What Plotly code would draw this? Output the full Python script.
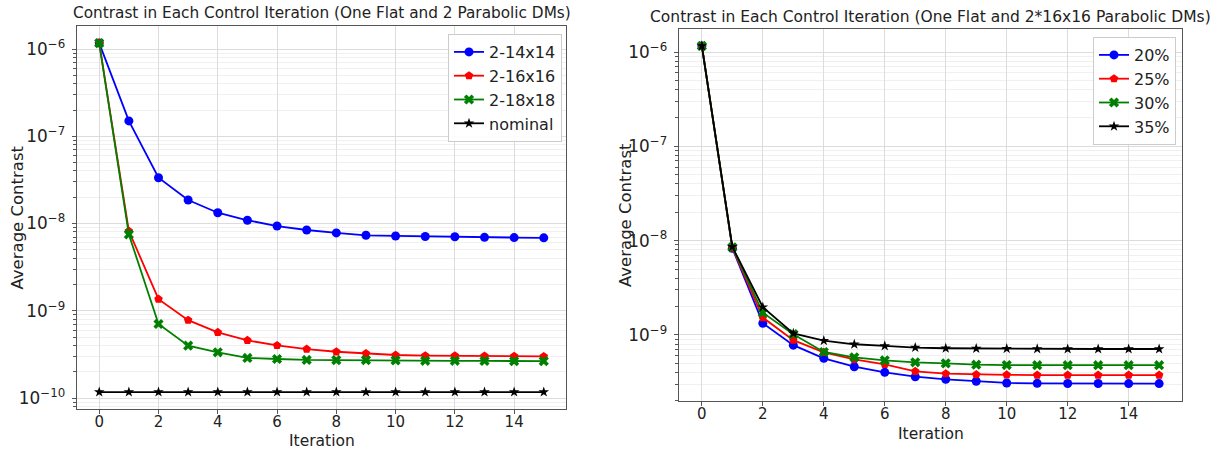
import plotly.graph_objects as go

iterations = list(range(16))

# Left panel: One Flat and 2 Parabolic DMs
left_14 = [1.17e-6, 1.5e-7, 3.35e-8, 1.86e-8, 1.33e-8, 1.09e-8, 9.36e-9, 8.43e-9,
           7.8e-9, 7.33e-9, 7.2e-9, 7.1e-9, 7.05e-9, 6.95e-9, 6.9e-9, 6.85e-9]
left_16 = [1.17e-6, 8.2e-9, 1.36e-9, 7.8e-10, 5.66e-10, 4.58e-10, 4.0e-10, 3.64e-10,
           3.39e-10, 3.24e-10, 3.11e-10, 3.06e-10, 3.05e-10, 3.03e-10, 3.02e-10, 3.0e-10]
left_18 = [1.17e-6, 7.5e-9, 7.05e-10, 3.98e-10, 3.34e-10, 2.88e-10, 2.8e-10, 2.73e-10,
           2.72e-10, 2.72e-10, 2.7e-10, 2.67e-10, 2.67e-10, 2.66e-10, 2.65e-10, 2.65e-10]
left_nominal = [1.17e-10] * 16

# Right panel: One Flat and 2*16x16 Parabolic DMs
right_20 = [1.16e-6, 8.3e-9, 1.33e-9, 7.8e-10, 5.66e-10, 4.61e-10, 4.02e-10, 3.61e-10,
            3.39e-10, 3.23e-10, 3.1e-10, 3.07e-10, 3.06e-10, 3.06e-10, 3.05e-10, 3.05e-10]
right_25 = [1.16e-6, 8.4e-9, 1.53e-9, 8.8e-10, 6.55e-10, 5.52e-10, 4.89e-10, 4.12e-10,
            3.89e-10, 3.8e-10, 3.78e-10, 3.76e-10, 3.76e-10, 3.76e-10, 3.76e-10, 3.76e-10]
right_30 = [1.16e-6, 8.5e-9, 1.72e-9, 1.02e-9, 6.6e-10, 5.8e-10, 5.38e-10, 5.13e-10,
            5.0e-10, 4.84e-10, 4.8e-10, 4.78e-10, 4.78e-10, 4.78e-10, 4.78e-10, 4.78e-10]
right_35 = [1.16e-6, 8.6e-9, 1.97e-9, 1.04e-9, 8.7e-10, 7.97e-10, 7.66e-10, 7.35e-10,
            7.23e-10, 7.18e-10, 7.15e-10, 7.12e-10, 7.1e-10, 7.1e-10, 7.1e-10, 7.1e-10]

left_names = ["2-14x14", "2-16x16", "2-18x18", "nominal"]
right_names = ["20%", "25%", "30%", "35%"]
colors = ["#0000ff", "#ff0000", "#008000", "#000000"]
symbols = ["circle", "pentagon", "x", "star"]
sizes = [9, 9, 9, 8]

FONT = "DejaVu Sans"
TXT = "#222222"
fig = go.Figure()

for name, ys, c, s, sz in zip(left_names, [left_14, left_16, left_18, left_nominal], colors, symbols, sizes):
    fig.add_trace(go.Scatter(x=iterations, y=ys, name=name, mode="lines+markers",
                             line=dict(color=c, width=1.8),
                             marker=dict(color=c, symbol=s, size=sz, line=dict(width=0)),
                             xaxis="x", yaxis="y", legend="legend"))

for name, ys, c, s, sz in zip(right_names, [right_20, right_25, right_30, right_35], colors, symbols, sizes):
    fig.add_trace(go.Scatter(x=iterations, y=ys, name=name, mode="lines+markers",
                             line=dict(color=c, width=1.8),
                             marker=dict(color=c, symbol=s, size=sz, line=dict(width=0)),
                             xaxis="x2", yaxis="y2", legend="legend2"))

xcommon = dict(range=[-0.75, 15.75], dtick=2, tick0=0, showgrid=True, gridcolor="#dcdcdc",
               showline=True, linecolor="#555555", linewidth=1.2, mirror=True,
               ticks="outside", ticklen=4, tickcolor="#555555", zeroline=False,
               ticklabelstandoff=-5,
               tickfont=dict(size=15, color=TXT, family=FONT), automargin=False)
ycommon = dict(type="log", dtick=1, exponentformat="power", showgrid=True, gridcolor="#dcdcdc",
               showline=True, linecolor="#555555", linewidth=1.2, mirror=True,
               ticks="outside", ticklen=4, tickcolor="#555555", zeroline=False,
               ticklabelstandoff=4,
               tickfont=dict(size=13.5, color=TXT, family=FONT), automargin=False,
               minor=dict(dtick="D1", showgrid=True, gridcolor="#f0f0f0", ticks="outside",
                          ticklen=2.5, tickcolor="#555555"))

L = dict(x0=77, x1=566, y0=26, y1=409)
R = dict(x0=679, x1=1182, y0=29, y1=401)
W, H = 1215, 450

def ann(text, x, y, size, angle=0):
    return dict(text=text, x=x / W, y=1 - y / H, xref="paper", yref="paper", showarrow=False,
                xanchor="center", yanchor="middle", textangle=angle,
                font=dict(size=size, family=FONT, color=TXT))

fig.update_layout(
    width=W, height=H,
    margin=dict(l=0, r=0, t=0, b=0, autoexpand=False),
    paper_bgcolor="white", plot_bgcolor="white",
    font=dict(family=FONT, size=14, color=TXT),
    xaxis=dict(domain=[L["x0"]/W, L["x1"]/W], anchor="y", **xcommon),
    yaxis=dict(domain=[1-L["y1"]/H, 1-L["y0"]/H], anchor="x", range=[-10.126, -5.736], **ycommon),
    xaxis2=dict(domain=[R["x0"]/W, R["x1"]/W], anchor="y2", **xcommon),
    yaxis2=dict(domain=[1-R["y1"]/H, 1-R["y0"]/H], anchor="x2", range=[-9.70, -5.756], **ycommon),
    legend=dict(x=562/W, y=1-34/H, xanchor="right", yanchor="top",
                bordercolor="#cccccc", borderwidth=1, bgcolor="rgba(255,255,255,0.9)",
                font=dict(size=16, family=FONT, color=TXT), tracegroupgap=0),
    legend2=dict(x=1176/W, y=1-37/H, xanchor="right", yanchor="top",
                 bordercolor="#cccccc", borderwidth=1, bgcolor="rgba(255,255,255,0.9)",
                 font=dict(size=16, family=FONT, color=TXT), tracegroupgap=0),
    annotations=[
        ann("Contrast in Each Control Iteration (One Flat and 2 Parabolic DMs)", (L["x0"]+L["x1"])/2, 13, 15.3),
        ann("Contrast in Each Control Iteration (One Flat and 2*16x16 Parabolic DMs)", (R["x0"]+R["x1"])/2, 17, 15.5),
        ann("Iteration", (L["x0"]+L["x1"])/2, 440.5, 15.5),
        ann("Iteration", (R["x0"]+R["x1"])/2, 434, 15.5),
        ann("Average Contrast", 17, (L["y0"]+L["y1"])/2, 16.5, -90),
        ann("Average Contrast", 625, (R["y0"]+R["y1"])/2, 16.5, -90),
    ],
)

fig.write_html("out.html", config={"displayModeBar": False},
               post_script="document.body.style.margin='0';document.body.style.padding='0';")
